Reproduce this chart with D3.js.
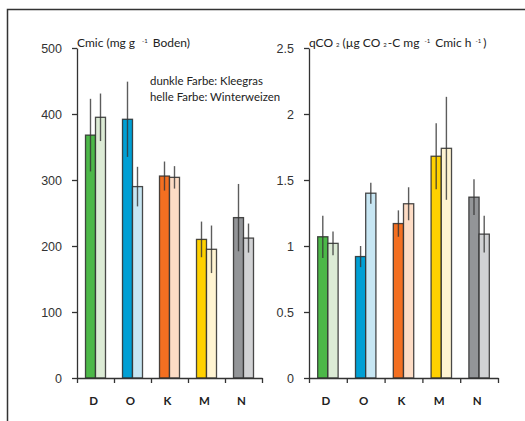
<!doctype html>
<html>
<head>
<meta charset="utf-8">
<style>
  body { margin: 0; background: #fff; }
  svg { font-family: Lato, "Open Sans", sans-serif; }
  .tick text { fill: #333; font-size: 12.5px; }
  .axis path, .axis line { stroke: #333; stroke-width: 1.3; }
</style>
<script src="https://d3js.org/d3.v7.min.js"></script>
</head>
<body>
<svg width="525" height="421" id="chart"></svg>
<script>
// Standorte
const groups = ["D", "O", "K", "M", "N"];

// Cmic (mg g-1 Boden)
const cmicKlee = [368, 392, 306, 210, 243];
const cmicKleeErr = [55, 57, 22, 27, 51];
const cmicWeizen = [395, 290, 304, 195, 212];
const cmicWeizenErr = [36, 30, 17, 36, 22];
const cmicTicks = [0, 100, 200, 300, 400, 500];

// qCO2 (µg CO2-C mg-1 Cmic h-1)
const qcoKlee = [1.07, 0.92, 1.17, 1.68, 1.37];
const qcoKleeErr = [0.16, 0.08, 0.10, 0.25, 0.135];
const qcoWeizen = [1.02, 1.40, 1.32, 1.74, 1.09];
const qcoWeizenErr = [0.09, 0.08, 0.125, 0.39, 0.14];
const qcoTicks = [0, 0.5, 1, 1.5, 2, 2.5];

// dunkle / helle Farbe je Standort
const darkColors = ["#4cb848", "#009fd4", "#f36f21", "#ffd100", "#939598"];
const lightColors = ["#dcebd5", "#c7e6f3", "#fddcc5", "#fff4d2", "#d1d2d4"];

var svg = d3.select("#chart");

// Rahmen
svg.append("path")
   .attr("d", "M7.5,421 L7.5,9.5 L525,9.5")
   .attr("fill", "none")
   .attr("stroke", "#333")
   .attr("stroke-width", 1.5);

function panel(x0, x1, klee, kleeErr, weizen, weizenErr, ticks, fmt) {
    var top = 48, bottom = 378;
    var y = d3.scaleLinear().domain([0, ticks[ticks.length - 1]]).range([bottom, top]);
    var x = d3.scaleBand().domain(groups).range([x0, x1]);
    var xi = d3.scaleBand().domain([0, 1]).range([0, x.bandwidth()]).paddingOuter(0.85);
    var xt = d3.scaleLinear().domain([0, groups.length]).range([x0, x1]);

    var rows = groups.map(function(g, i) {
        return [
            {g: g, k: 0, v: klee[i], e: kleeErr[i], c: darkColors[i]},
            {g: g, k: 1, v: weizen[i], e: weizenErr[i], c: lightColors[i]}
        ];
    }).flat();

    svg.selectAll(null)
       .data(rows)
       .enter().append("rect")
       .attr("x", function(d) { return x(d.g) + xi(d.k); })
       .attr("y", function(d) { return y(d.v); })
       .attr("width", xi.bandwidth())
       .attr("height", function(d) { return y(0) - y(d.v); })
       .attr("fill", function(d) { return d.c; })
       .attr("stroke", "#2a2a2a")
       .attr("stroke-opacity", 0.85)
       .attr("stroke-width", 1.3);

    svg.selectAll(null)
       .data(rows)
       .enter().append("line")
       .attr("x1", function(d) { return x(d.g) + xi(d.k) + xi.bandwidth() / 2; })
       .attr("x2", function(d) { return x(d.g) + xi(d.k) + xi.bandwidth() / 2; })
       .attr("y1", function(d) { return y(d.v + d.e); })
       .attr("y2", function(d) { return y(d.v - d.e); })
       .attr("stroke", "#333")
       .attr("stroke-opacity", 0.8)
       .attr("stroke-width", 1.4);

    svg.append("g")
       .attr("class", "axis")
       .attr("transform", "translate(" + x0 + ",0)")
       .call(d3.axisLeft(y).tickValues(ticks).tickFormat(fmt)
             .tickSize(5).tickSizeOuter(0).tickPadding(10));

    svg.append("g")
       .attr("class", "axis")
       .attr("transform", "translate(0," + bottom + ")")
       .call(d3.axisBottom(xt).ticks(groups.length).tickFormat("")
             .tickSize(5).tickSizeOuter(0));

    svg.append("g")
       .attr("transform", "translate(-2," + 405 + ")")
       .selectAll("text")
       .data(groups)
       .enter().append("text")
       .attr("x", function(d) { return x(d) + x.bandwidth() / 2; })
       .attr("text-anchor", "middle")
       .attr("font-size", "11.5px")
       .attr("font-weight", "bold")
       .attr("fill", "#222")
       .text(function(d) { return d; });
}

panel(77, 262, cmicKlee, cmicKleeErr, cmicWeizen, cmicWeizenErr, cmicTicks, d3.format("d"));
panel(309, 498, qcoKlee, qcoKleeErr, qcoWeizen, qcoWeizenErr, qcoTicks, function(d) { return d; });

// Achsentitel
function sup(t, s, lift, gapL, gapR) {
    t.append("tspan").attr("font-size", "6px").attr("dx", gapL).attr("dy", -lift).text(s);
    return function(txt) { t.append("tspan").attr("dx", gapR).attr("dy", lift).text(txt); };
}

var t1 = svg.append("text").attr("x", 77).attr("y", 47).attr("font-size", "12px").attr("fill", "#222");
t1.append("tspan").text("Cmic (mg g");
sup(t1, "-1", 4, 7, 5)("Boden)");

var t2 = svg.append("text").attr("x", 309).attr("y", 47).attr("font-size", "12px").attr("fill", "#222");
t2.append("tspan").text("qCO");
sup(t2, "2", 0, 3, 3)("(µg CO");
sup(t2, "2", 0, 3, 1)("-C mg");
sup(t2, "-1", 4, 5, 5)("Cmic h");
sup(t2, "-1", 4, 4, 2)(")");

// Legende
svg.append("text").attr("x", 150).attr("y", 85).attr("font-size", "11.4px").attr("fill", "#222")
   .text("dunkle Farbe: Kleegras");
svg.append("text").attr("x", 150).attr("y", 101).attr("font-size", "11.4px").attr("fill", "#222")
   .text("helle Farbe: Winterweizen");
</script>
</body>
</html>
